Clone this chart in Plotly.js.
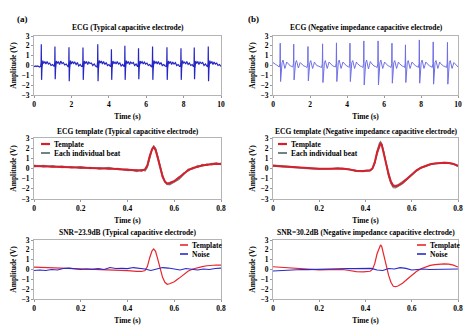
<!DOCTYPE html>
<html><head><meta charset="utf-8">
<script src="https://cdn.plot.ly/plotly-3.0.1.min.js"></script>
<style>html,body{margin:0;padding:0;background:#fff}#c{width:474px;height:332px}</style>
</head><body><div id="c"></div>
<script>
// ---------- DATA ----------
// (a) raw ECG, typical capacitive electrode (10 s)
const ecgTimeA = [0,0.05,0.1,0.15,0.2,0.25,0.3,
0.35,0.38,0.39,0.405,0.425,0.47,0.52,0.58,0.64,0.70,0.77,0.84,0.91,0.99,1.06,
1.08,1.11,1.12,1.135,1.155,1.20,1.25,1.31,1.37,1.43,1.50,1.57,1.64,1.72,1.79,
1.83,1.86,1.87,1.885,1.905,1.95,2.00,2.06,2.12,2.18,2.25,2.32,2.39,2.47,2.54,
2.58,2.61,2.62,2.635,2.655,2.70,2.75,2.81,2.87,2.93,3.00,3.07,3.14,3.22,3.29,3.35,
3.37,3.40,3.41,3.425,3.445,3.49,3.54,3.60,3.66,3.72,3.79,3.86,3.93,4.01,4.08,
4.10,4.13,4.14,4.155,4.175,4.22,4.27,4.33,4.39,4.45,4.52,4.59,4.66,4.74,4.81,
4.82,4.85,4.86,4.875,4.895,4.94,4.99,5.05,5.11,5.17,5.24,5.31,5.38,5.46,5.53,
5.55,5.58,5.59,5.605,5.625,5.67,5.72,5.78,5.84,5.90,5.97,6.04,6.11,6.19,6.27,
6.30,6.33,6.34,6.355,6.375,6.42,6.47,6.53,6.59,6.65,6.72,6.79,6.86,6.94,7.01,
7.07,7.10,7.11,7.125,7.145,7.19,7.24,7.30,7.36,7.42,7.49,7.56,7.63,7.71,7.78,
7.82,7.85,7.86,7.875,7.895,7.94,7.99,8.05,8.11,8.17,8.24,8.31,8.38,8.46,8.52,
8.54,8.56,8.57,8.585,8.605,8.65,8.70,8.76,8.82,8.88,8.95,9.02,9.09,9.17,9.24,9.28,
9.31,9.32,9.335,9.355,9.40,9.45,9.51,9.57,9.63,9.70,9.77,9.84,9.92,10.0];
const ecgAmpA = [-0.05,-0.1,-0.05,-0.1,-0.05,-0.1,-0.15,
-0.1,0.3,2.17,-1.46,-0.3,0.5,0.2,0.4,0.15,0.4,0.15,0.25,0.0,0.1,-0.1,
-0.1,0.3,1.93,-1.40,-0.3,0.45,0.25,0.35,0.1,0.45,0.2,0.3,0.05,0.15,-0.05,
-0.15,0.3,1.86,-1.60,-0.35,0.5,0.15,0.4,0.2,0.35,0.1,0.3,-0.05,0.1,-0.1,
-0.1,0.3,1.83,-1.46,-0.3,0.45,0.2,0.4,0.1,0.35,0.2,0.25,0.0,0.15,-0.05,-0.1,
-0.15,0.35,2.17,-1.60,-0.35,0.5,0.25,0.45,0.15,0.4,0.1,0.3,0.0,0.1,-0.1,
-0.1,0.3,1.66,-1.46,-0.3,0.45,0.2,0.35,0.15,0.4,0.15,0.25,-0.05,0.1,-0.1,
-0.1,0.3,2.0,-1.46,-0.3,0.5,0.2,0.4,0.1,0.35,0.2,0.3,0.0,0.15,-0.1,
-0.1,0.3,1.76,-1.40,-0.3,0.45,0.25,0.4,0.15,0.35,0.15,0.25,0.0,0.1,-0.1,
-0.15,0.3,1.93,-1.46,-0.35,0.5,0.2,0.4,0.15,0.4,0.1,0.3,0.0,0.1,-0.05,
-0.1,0.3,1.86,-1.46,-0.3,0.45,0.2,0.4,0.1,0.35,0.15,0.3,0.0,0.1,-0.1,
-0.1,0.3,1.76,-1.46,-0.3,0.5,0.25,0.35,0.15,0.4,0.1,0.25,0.0,0.1,-0.1,
-0.1,0.3,1.83,-1.40,-0.3,0.45,0.2,0.4,0.1,0.35,0.2,0.3,0.0,0.15,-0.05,-0.1,
0.3,1.93,-1.60,-0.35,0.5,0.2,0.4,0.1,0.35,0.15,0.25,0.0,0.1,-0.1];

// (b) raw ECG, negative impedance capacitive electrode (10 s)
const ecgTimeB = [0,0.05,0.1,0.15,0.2,0.25,0.3,
0.34,0.375,0.39,0.41,0.44,0.49,0.54,0.59,0.64,0.69,0.74,0.79,0.86,0.94,1.02,
1.07,1.105,1.12,1.14,1.17,1.22,1.27,1.32,1.37,1.42,1.47,1.52,1.59,1.67,1.75,1.81,
1.84,1.875,1.89,1.91,1.94,1.99,2.04,2.09,2.14,2.19,2.24,2.29,2.36,2.44,2.52,2.59,
2.63,2.665,2.68,2.70,2.73,2.78,2.83,2.88,2.93,2.98,3.03,3.08,3.15,3.23,3.31,
3.38,3.415,3.43,3.45,3.48,3.53,3.58,3.63,3.68,3.73,3.78,3.83,3.90,3.98,4.06,
4.11,4.145,4.16,4.18,4.21,4.26,4.31,4.36,4.41,4.46,4.51,4.56,4.63,4.71,4.79,
4.86,4.895,4.91,4.93,4.96,5.01,5.06,5.11,5.16,5.21,5.26,5.31,5.38,5.46,5.54,
5.63,5.665,5.68,5.70,5.73,5.78,5.83,5.88,5.93,5.98,6.03,6.08,6.15,6.23,6.31,
6.38,6.415,6.43,6.45,6.48,6.53,6.58,6.63,6.68,6.73,6.78,6.83,6.90,6.98,7.06,
7.11,7.145,7.16,7.18,7.21,7.26,7.31,7.36,7.41,7.46,7.51,7.56,7.63,7.71,7.79,
7.86,7.895,7.91,7.93,7.96,8.01,8.06,8.11,8.16,8.21,8.26,8.31,8.38,8.46,8.54,
8.61,8.645,8.66,8.68,8.71,8.76,8.81,8.86,8.91,8.96,9.01,9.06,9.13,9.21,9.29,9.35,
9.38,9.415,9.43,9.45,9.48,9.53,9.58,9.63,9.68,9.73,9.78,9.83,9.90,9.95,10.0];
const ecgAmpB = [0.3,0.2,0.15,0.1,0.05,0.0,-0.05,
-0.15,0.2,2.27,-1.63,-0.5,0.3,0.55,0.2,-0.3,0.0,0.35,0.25,0.05,-0.05,-0.1,
-0.15,0.2,2.17,-1.46,-0.5,0.3,0.5,0.2,-0.25,0.0,0.3,0.2,0.05,-0.05,-0.1,-0.15,
-0.2,0.2,1.93,-1.56,-0.5,0.3,0.5,0.15,-0.3,0.0,0.35,0.2,0.0,-0.05,-0.1,-0.15,
-0.2,0.2,2.2,-1.73,-0.6,0.3,0.5,0.2,-0.3,0.0,0.35,0.25,0.05,-0.05,-0.1,
-0.15,0.2,2.3,-1.63,-0.5,0.3,0.55,0.2,-0.3,0.0,0.35,0.25,0.05,-0.05,-0.1,
-0.2,0.2,2.27,-1.63,-0.5,0.3,0.5,0.2,-0.3,0.0,0.35,0.2,0.05,-0.05,-0.1,
-0.2,0.2,2.5,-1.97,-0.6,0.3,0.55,0.2,-0.35,0.0,0.4,0.25,0.05,-0.05,-0.1,
-0.2,0.2,2.5,-1.97,-0.6,0.3,0.55,0.2,-0.3,0.0,0.35,0.25,0.05,-0.05,-0.1,
-0.2,0.2,2.27,-1.8,-0.5,0.3,0.5,0.2,-0.3,0.0,0.35,0.2,0.05,-0.05,-0.1,
-0.2,0.2,2.1,-1.73,-0.5,0.3,0.5,0.2,-0.3,0.0,0.35,0.25,0.05,-0.05,-0.1,
-0.2,0.2,2.6,-1.8,-0.6,0.3,0.55,0.2,-0.3,0.0,0.35,0.25,0.05,-0.05,-0.1,
-0.2,0.2,2.4,-1.9,-0.6,0.3,0.5,0.2,-0.3,0.0,0.35,0.2,0.05,-0.05,-0.1,-0.15,
-0.2,0.2,2.35,-1.9,-0.6,0.3,0.5,0.2,-0.3,0.0,0.3,0.2,0.05,-0.1,-0.15];

// (a) template and individual beats (0.8 s)
const tplTimeA = [0,0.04,0.08,0.12,0.16,0.20,0.24,0.28,0.32,0.36,0.40,0.44,0.46,0.475,0.485,0.495,0.505,0.512,0.52,0.53,0.54,0.55,0.56,0.57,0.58,0.60,0.62,0.64,0.66,0.68,0.70,0.72,0.74,0.76,0.78,0.80];
const tplAmpA  = [0.25,0.22,0.18,0.15,0.12,0.08,0.05,0.02,0.0,-0.05,-0.12,-0.2,-0.2,-0.1,0.3,1.2,1.9,2.1,1.85,1.0,0.0,-0.8,-1.3,-1.5,-1.45,-1.25,-0.9,-0.5,-0.15,0.05,0.2,0.3,0.38,0.43,0.46,0.45];
const beatA1   = [0.35,0.15,0.28,0.08,0.2,0.0,0.12,-0.06,0.08,-0.12,-0.05,-0.3,-0.12,-0.15,0.2,1.1,1.95,2.25,1.95,1.1,0.1,-0.7,-1.35,-1.6,-1.55,-1.3,-1.0,-0.45,-0.25,0.1,0.1,0.4,0.3,0.52,0.4,0.55];
const beatA2   = [0.15,0.3,0.1,0.22,0.05,0.15,-0.02,0.1,-0.08,0.02,-0.22,-0.12,-0.28,-0.05,0.4,1.3,1.85,2.0,1.75,0.9,-0.1,-0.9,-1.25,-1.42,-1.35,-1.2,-0.8,-0.55,-0.05,0.0,0.3,0.22,0.45,0.35,0.52,0.38];
const beatA3   = [0.2,0.32,0.18,0.25,0.1,0.18,0.05,0.0,0.12,-0.1,-0.18,-0.22,-0.1,-0.25,0.1,1.0,1.8,2.15,2.0,1.2,0.2,-0.6,-1.2,-1.55,-1.62,-1.4,-1.1,-0.6,-0.1,-0.05,0.2,0.35,0.32,0.5,0.55,0.42];

// (b) template and individual beats (0.8 s)
const tplTimeB = [0,0.04,0.08,0.12,0.16,0.20,0.24,0.28,0.30,0.33,0.36,0.39,0.42,0.43,0.44,0.45,0.46,0.465,0.47,0.48,0.49,0.50,0.51,0.52,0.53,0.54,0.56,0.58,0.60,0.62,0.64,0.66,0.68,0.70,0.72,0.74,0.76,0.78,0.80];
const tplAmpB  = [0.28,0.22,0.12,0.05,0.0,-0.03,-0.02,0.02,0.0,-0.1,-0.22,-0.25,-0.18,0.0,0.6,1.6,2.35,2.5,2.35,1.5,0.4,-0.6,-1.3,-1.7,-1.75,-1.68,-1.4,-1.0,-0.6,-0.2,0.08,0.28,0.42,0.5,0.55,0.57,0.55,0.45,0.25];
const beatB1   = [0.35,0.3,0.18,0.1,0.04,0.0,-0.05,0.05,0.02,-0.05,-0.3,-0.32,-0.22,-0.05,0.5,1.7,2.5,2.65,2.45,1.6,0.3,-0.8,-1.5,-1.9,-1.92,-1.8,-1.5,-1.05,-0.65,-0.25,0.05,0.25,0.4,0.48,0.53,0.55,0.52,0.42,0.2];
const beatB2   = [0.22,0.15,0.08,0.0,-0.04,-0.06,0.0,0.0,-0.03,-0.14,-0.18,-0.2,-0.15,0.05,0.7,1.55,2.2,2.35,2.25,1.4,0.45,-0.5,-1.2,-1.6,-1.65,-1.6,-1.3,-0.95,-0.55,-0.15,0.12,0.3,0.45,0.52,0.58,0.6,0.58,0.48,0.3];
const beatB3   = [0.3,0.18,0.15,0.06,0.02,-0.08,-0.04,0.04,-0.06,-0.08,-0.28,-0.22,-0.25,-0.02,0.45,1.5,2.3,2.55,2.4,1.55,0.35,-0.7,-1.4,-1.8,-1.85,-1.72,-1.45,-1.1,-0.62,-0.22,0.05,0.22,0.38,0.46,0.52,0.56,0.54,0.46,0.22];

// noise (0.8 s)
const noiseTime = [0,0.025,0.05,0.075,0.1,0.125,0.15,0.175,0.2,0.225,0.25,0.275,0.3,0.325,0.35,0.375,0.4,0.425,0.45,0.475,0.5,0.525,0.55,0.575,0.6,0.625,0.65,0.675,0.7,0.725,0.75,0.775,0.8];
const noiseA = [-0.1,-0.05,-0.1,0.0,-0.05,0.1,0.15,0.05,0.0,0.05,0.02,0.08,0.0,0.2,0.1,0.12,0.08,0.2,0.15,0.05,-0.1,0.05,0.2,0.15,0.05,-0.05,0.1,0.0,-0.05,0.05,0.0,0.1,0.15];
const noiseB = [-0.15,-0.12,-0.1,-0.05,0.0,0.0,-0.02,0.0,-0.02,0.0,0.05,0.1,0.12,0.1,0.08,0.1,0.12,0.12,-0.05,-0.1,0.1,0.05,0.18,0.12,-0.05,0.0,0.05,0.0,0.02,0.05,0.0,0.05,0.05];

const titles = ["ECG (Typical capacitive electrode)","ECG (Negative impedance capacitive electrode)",
  "ECG template (Typical capacitive electrode)","ECG template (Negative impedance capacitive electrode)",
  "SNR=23.9dB (Typical capacitive electrode)","SNR=30.2dB (Negative impedance capacitive electrode)"];
const panelLabels = ["(a)","(b)"];
const legendTpl = ["Template","Each individual beat"];
const legendSnr = ["Template","Noise"];

// ---------- LAYOUT ----------
const W=474,H=332;
const px = x => x/W, py = y => 1 - y/H;
const FF = "Liberation Serif, Times New Roman, serif";
const RED="#d8202c", GRAY="#6f8383", GRAY2="#8c9c9c", BLUE="#2a2acc";

const traces = [
  {x:ecgTimeA,y:ecgAmpA,xaxis:'x',yaxis:'y',mode:'lines',line:{color:'#2626c4',width:1.2}},
  {x:ecgTimeB,y:ecgAmpB,xaxis:'x2',yaxis:'y2',mode:'lines',line:{color:'#6e6ee6',width:1}},
  {x:tplTimeA,y:beatA1,xaxis:'x3',yaxis:'y3',mode:'lines',line:{color:GRAY,width:1.1}},
  {x:tplTimeA,y:beatA2,xaxis:'x3',yaxis:'y3',mode:'lines',line:{color:GRAY2,width:1.1}},
  {x:tplTimeA,y:beatA3,xaxis:'x3',yaxis:'y3',mode:'lines',line:{color:GRAY,width:1.1}},
  {x:tplTimeA,y:tplAmpA,xaxis:'x3',yaxis:'y3',mode:'lines',line:{color:RED,width:2}},
  {x:tplTimeB,y:beatB1,xaxis:'x4',yaxis:'y4',mode:'lines',line:{color:GRAY,width:1.1}},
  {x:tplTimeB,y:beatB2,xaxis:'x4',yaxis:'y4',mode:'lines',line:{color:GRAY2,width:1.1}},
  {x:tplTimeB,y:beatB3,xaxis:'x4',yaxis:'y4',mode:'lines',line:{color:GRAY,width:1.1}},
  {x:tplTimeB,y:tplAmpB,xaxis:'x4',yaxis:'y4',mode:'lines',line:{color:RED,width:2}},
  {x:tplTimeA,y:tplAmpA,xaxis:'x5',yaxis:'y5',mode:'lines',line:{color:'#e8262b',width:1.2}},
  {x:noiseTime,y:noiseA,xaxis:'x5',yaxis:'y5',mode:'lines',line:{color:BLUE,width:1.2}},
  {x:tplTimeB,y:tplAmpB,xaxis:'x6',yaxis:'y6',mode:'lines',line:{color:'#e8262b',width:1.2}},
  {x:noiseTime,y:noiseB,xaxis:'x6',yaxis:'y6',mode:'lines',line:{color:BLUE,width:1.2}}
];

const tickFont = {family:FF,size:7.5,color:'#000',weight:700};
const titleFont = {family:FF,size:7.5,color:'#000',weight:700};
function xa(dom, anchor, range, dtick){
  return {domain:dom,anchor:anchor,range:range,dtick:dtick,showgrid:false,zeroline:false,
    showline:true,mirror:true,linecolor:'#b4b4b4',linewidth:1,ticks:'outside',ticklen:2,tickcolor:'#999',
    tickfont:tickFont,title:{text:'Time (s)',font:titleFont,standoff:5},automargin:false};
}
function ya(dom, anchor){
  return {domain:dom,anchor:anchor,range:[-3,3],dtick:1,showgrid:false,zeroline:false,
    showline:true,mirror:true,linecolor:'#b4b4b4',linewidth:1,ticks:'outside',ticklen:2,tickcolor:'#999',
    tickfont:tickFont,title:{text:'Amplitude (V)',font:titleFont,standoff:3},automargin:false};
}
const xL=[px(34),px(221)], xR=[px(273),px(458)];
const yT=[py(95),py(36)], yM=[py(199),py(138)], yB=[py(299),py(240)];

const annotations = [];
const titleY=[28,131,233], titleX=[128,366];
titles.forEach((t,i)=>{
  annotations.push({text:t,x:px(titleX[i%2]),y:py(titleY[Math.floor(i/2)]),xref:'paper',yref:'paper',
    showarrow:false,xanchor:'center',yanchor:'middle',font:titleFont});
});
annotations.push({text:panelLabels[0],x:px(15),y:py(12),xref:'paper',yref:'paper',showarrow:false,font:{family:FF,size:9,color:'#000',weight:700}});
annotations.push({text:panelLabels[1],x:px(253),y:py(12),xref:'paper',yref:'paper',showarrow:false,font:{family:FF,size:9,color:'#000',weight:700}});

const shapes = [];
function legend(x0,x1,tx,ys,labels,colors,widths){
  labels.forEach((lab,i)=>{
    shapes.push({type:'line',xref:'paper',yref:'paper',x0:px(x0),x1:px(x1),y0:py(ys[i]),y1:py(ys[i]),line:{color:colors[i],width:widths[i]}});
    annotations.push({text:lab,x:px(tx),y:py(ys[i]),xref:'paper',yref:'paper',showarrow:false,xanchor:'left',yanchor:'middle',
      font:{family:FF,size:7.5,color:'#000',weight:700}});
  });
}
legend(41,50,52,[144,153],legendTpl,[RED,'#4f6464'],[2.2,1.6]);
legend(278,287,289,[144,153],legendTpl,[RED,'#4f6464'],[2.2,1.6]);
legend(180,188,190,[245,254],legendSnr,['#e8262b',BLUE],[1.6,1.6]);
legend(417,426,428,[245,254],legendSnr,['#e8262b',BLUE],[1.6,1.6]);

const layout = {
  width:W,height:H,margin:{l:0,r:0,t:0,b:0},paper_bgcolor:'#fff',plot_bgcolor:'#fff',showlegend:false,
  xaxis:xa(xL,'y',[0,10],2), yaxis:ya(yT,'x'),
  xaxis2:xa(xR,'y2',[0,10],2), yaxis2:ya(yT,'x2'),
  xaxis3:xa(xL,'y3',[0,0.8],0.2), yaxis3:ya(yM,'x3'),
  xaxis4:xa(xR,'y4',[0,0.8],0.2), yaxis4:ya(yM,'x4'),
  xaxis5:xa(xL,'y5',[0,0.8],0.2), yaxis5:ya(yB,'x5'),
  xaxis6:xa(xR,'y6',[0,0.8],0.2), yaxis6:ya(yB,'x6'),
  annotations:annotations, shapes:shapes
};
Plotly.newPlot('c',traces,layout,{staticPlot:true,displayModeBar:false});
</script></body></html>
